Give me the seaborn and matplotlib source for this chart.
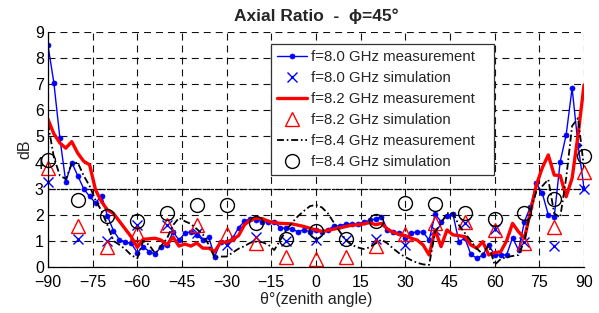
import matplotlib
matplotlib.use("Agg")
import matplotlib.pyplot as plt
import pandas as pd
import seaborn as sns

# ---------------- data ----------------
theta_meas = list(range(-90, 91, 2))
ar_80_meas = [8.5, 7.05, 4.95, 3.25, 4.0, 3.5, 3.0, 2.7, 2.45, 2.73,
              1.95, 1.39, 1.05, 0.95, 0.9, 0.55, 0.78, 0.59, 0.49, 0.78,
              0.84, 1.35, 1.03, 1.29, 1.35, 1.23, 1.03, 1.14, 0.4, 0.97,
              0.95, 1.1, 1.5, 1.75, 1.85, 1.8, 1.74, 1.74, 1.74, 1.5,
              1.48, 1.44, 1.35, 1.42, 1.35, 1.4, 1.35, 1.42, 1.57, 1.57,
              1.65, 1.65, 1.65, 1.72, 1.78, 1.85, 1.93, 1.42, 1.35, 1.3,
              1.1, 1.3, 1.35, 1.33, 1.03, 2.02, 1.74, 1.97, 2.02, 0.97,
              1.1, 0.49, 0.33, 0.46, 0.84, 0.46, 0.46, 0.46, 1.12, 0.65,
              1.74, 2.31, 3.2, 2.82, 2.0, 1.93, 4.03, 5.06, 6.85, 4.67,
              3.02]
ar_82_meas = [5.66, 5.1, 4.75, 4.55, 4.8, 4.36, 4.05, 3.91, 2.95, 2.5,
              2.18, 2.05, 1.75, 1.45, 1.15, 0.75, 1.06, 1.08, 1.1, 1.03,
              0.85, 1.15, 0.8, 0.88, 0.8, 0.92, 0.72, 0.72, 0.59, 0.95,
              0.95, 1.05, 1.2, 1.62, 1.8, 1.86, 1.85, 1.75, 1.7, 1.67,
              1.66, 1.65, 1.6, 1.55, 1.48, 1.42, 1.36, 1.4, 1.45, 1.5,
              1.55, 1.6, 1.62, 1.65, 1.7, 1.62, 1.67, 1.45, 1.32, 1.25,
              1.2, 1.1, 1.03, 0.84, 0.46, 1.42, 0.78, 1.42, 1.23, 1.2,
              1.16, 0.84, 0.72, 0.97, 0.46, 0.55, 0.58, 1.0, 1.67, 1.35,
              1.1, 2.12, 3.14, 3.8, 4.29, 3.52, 3.5, 2.69, 3.4, 5.06,
              6.97]
ar_84_meas = [5.5, 4.2, 3.5, 3.37, 3.95, 4.0, 3.5, 3.1, 2.55, 2.15,
              1.6, 1.0, 0.85, 0.68, 0.45, 0.33, 1.0, 0.84, 0.52, 0.8,
              1.1, 1.6, 1.88, 1.75, 1.65, 1.45, 1.25, 0.85, 0.35, 0.4,
              0.4, 0.55, 0.7, 0.8, 0.93, 0.97, 0.95, 0.85, 0.65, 1.03,
              1.4, 1.7, 1.95, 2.15, 2.33, 2.38, 2.28, 2.05, 1.7, 1.35,
              1.05, 0.85, 0.75, 0.69, 0.75, 0.9, 1.05, 0.9, 0.7, 0.52,
              0.38, 0.26, 0.16, 0.1, 0.08, 1.35, 1.67, 2.06, 2.06, 1.6,
              1.3, 1.0, 0.7, 0.5, 0.84, 0.08, 0.3, 0.38, 0.42, 0.46,
              1.0, 2.15, 2.89, 3.1, 3.35, 2.05, 1.9, 3.4, 5.4, 5.7,
              3.78]

theta_sim = list(range(-90, 91, 10))
ar_80_sim = [3.24, 1.06, 1.0, 1.6, 1.6, 1.3, 0.85, 1.16, 1.0, 1.03,
             1.05, 1.06, 0.84, 1.42, 1.7, 1.45, 0.95, 0.8, 2.98]
ar_82_sim = [3.78, 1.57, 0.78, 1.31, 1.61, 1.61, 1.26, 0.91, 0.37, 0.29,
             0.37, 0.8, 1.25, 1.7, 1.74, 1.42, 0.91, 1.52, 3.65]
ar_84_sim = [4.1, 2.55, 1.95, 1.77, 2.05, 2.37, 2.37, 1.67, 1.06, 1.38,
             1.06, 1.76, 2.44, 2.4, 2.06, 1.84, 2.08, 2.6, 4.25]

threshold_db = 3
x_ticks = list(range(-90, 91, 15))
y_ticks = list(range(0, 10))
series_labels = ["f=8.0 GHz measurement", "f=8.0 GHz simulation",
                 "f=8.2 GHz measurement", "f=8.2 GHz simulation",
                 "f=8.4 GHz measurement", "f=8.4 GHz simulation"]
title_text = "Axial Ratio  -  \u03d5=45\u00b0"
xlabel_text = "\u03b8\u00b0(zenith angle)"
ylabel_text = "dB"

# ---------------- style ----------------
sns.set_style("white")
plt.rcParams["font.family"] = ["Liberation Sans", "DejaVu Sans"]
plt.rcParams["lines.scale_dashes"] = False

meas = pd.DataFrame({"theta": theta_meas, "f80": ar_80_meas,
                     "f82": ar_82_meas, "f84": ar_84_meas})
sim = pd.DataFrame({"theta": theta_sim, "f80": ar_80_sim,
                    "f82": ar_82_sim, "f84": ar_84_sim})

fig = plt.figure(figsize=(5.99, 3.13), dpi=100)
ax = fig.add_axes([0.080, 0.147, 0.895, 0.751])

# grid
ax.set_xlim(-90, 90)
ax.set_ylim(0, 9)
ax.set_xticks(x_ticks)
ax.set_yticks(y_ticks)
ax.grid(True, color="#111111", linestyle=(0, (5, 3.6)), linewidth=0.8)
ax.set_axisbelow(True)
ax.axhline(threshold_db, color="black", linestyle=(0, (2.2, 0.8)),
           linewidth=0.9, zorder=1.5)

sns.lineplot(data=meas, x="theta", y="f80", ax=ax, color="#0000ff",
             linewidth=1.0, marker="o", markersize=3.6,
             markeredgecolor="#0000ff", markeredgewidth=0.5,
             sort=False, estimator=None, label=series_labels[0], legend=False)
sns.lineplot(data=sim, x="theta", y="f80", ax=ax, color="#0000ff",
             linestyle="none", marker="x", markersize=6.5,
             markeredgecolor="#0000ff", markeredgewidth=1.0, clip_on=False,
             sort=False, estimator=None, label=series_labels[1], legend=False)
sns.lineplot(data=meas, x="theta", y="f82", ax=ax, color="#ff0000",
             linewidth=2.4, sort=False, estimator=None,
             label=series_labels[2], legend=False)
sns.lineplot(data=sim, x="theta", y="f82", ax=ax, color="#ff0000",
             linestyle="none", marker="^", markersize=9.5,
             markerfacecolor="none", markeredgecolor="#ff0000",
             markeredgewidth=1.0, sort=False, estimator=None, clip_on=False,
             label=series_labels[3], legend=False)
sns.lineplot(data=meas, x="theta", y="f84", ax=ax, color="black",
             linewidth=1.3, linestyle=(0, (5, 2, 1.2, 2)),
             sort=False, estimator=None, label=series_labels[4], legend=False)
sns.lineplot(data=sim, x="theta", y="f84", ax=ax, color="black",
             linestyle="none", marker="o", markersize=10,
             markerfacecolor="none", markeredgecolor="black",
             markeredgewidth=1.0, sort=False, estimator=None, clip_on=False,
             label=series_labels[5], legend=False)

for sp in ["top", "right"]:
    ax.spines[sp].set_visible(False)
for sp in ["left", "bottom"]:
    ax.spines[sp].set_color("black")
    ax.spines[sp].set_linewidth(0.9)

ax.tick_params(axis="both", direction="in", length=3, width=0.8,
               labelsize=11.5, colors="black")
ax.tick_params(axis="x", pad=6)
ax.tick_params(axis="y", pad=3)
ax.set_title(title_text, fontsize=12.5, fontweight="bold", pad=8)
ax.set_xlabel(xlabel_text, fontsize=11.5, labelpad=1, color="#222222")
ax.set_ylabel(ylabel_text, fontsize=11.5, labelpad=2, color="#222222")

handles, labels = ax.get_legend_handles_labels()
leg = ax.legend(handles, labels, loc="upper left",
                bbox_to_anchor=(0.416, 0.40, 0.416, 0.549), mode="expand",
                borderaxespad=0,
                fontsize=10.8, frameon=True, fancybox=False,
                edgecolor="#333333", framealpha=1, handlelength=2.0,
                handletextpad=0.3, borderpad=0.4, labelspacing=0.47)
leg.get_frame().set_linewidth(0.9)
leg.set_zorder(5)

fig.savefig("out.png", dpi=100, facecolor="white")
